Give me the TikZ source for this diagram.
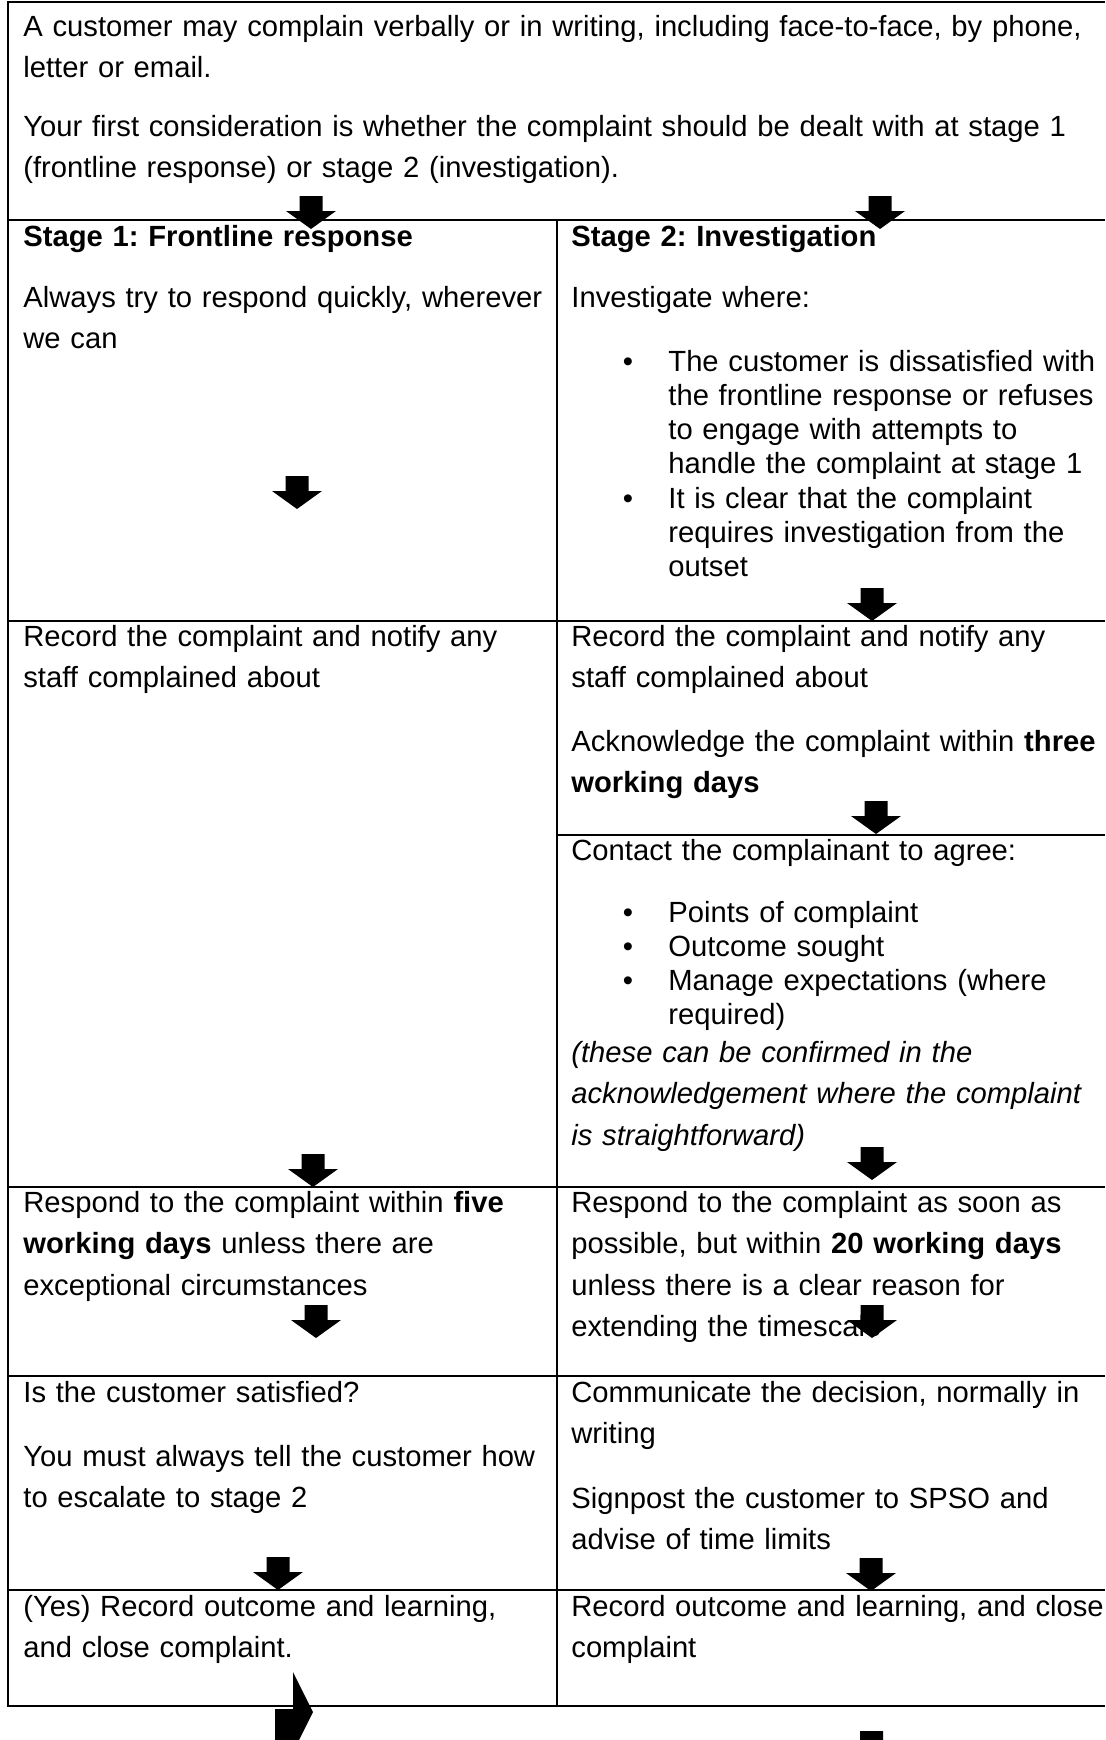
\documentclass[tikz,border=0pt]{standalone}
\usepackage{fontspec}
\setmainfont{Liberation Sans}
\frenchspacing

\begin{document}
\begin{tikzpicture}[x=0.5pt,y=-0.5pt,
  txt/.style={anchor=base west,inner sep=0pt,text width=280pt,align=left,
    font=\fontsize{14.6}{20.8}\selectfont},
  widetxt/.style={txt,text width=540pt},
  listtxt/.style={txt,font=\fontsize{14.6}{17.1}\selectfont},
  dot/.style={anchor=base,inner sep=0pt,font=\fontsize{14.6}{17.1}\selectfont},
  rule/.style={line width=1.2pt},
  down/.pic={\fill (-11.5,0) -- (11.5,0) -- (11.5,15) -- (25,15) -- (0,33) -- (-25,15) -- (-11.5,15) -- cycle;}]
\useasboundingbox (0,0) rectangle (1105,1740);
\clip (0,0) rectangle (1105,1740);
\draw [rule] (1105,2) -- (8,2) -- (8,1706) -- (1105,1706);
\draw [rule] (8,220) -- (1105,220);
\draw [rule] (8,621) -- (1105,621);
\draw [rule] (557,835) -- (1105,835);
\draw [rule] (8,1187) -- (1105,1187);
\draw [rule] (8,1376) -- (1105,1376);
\draw [rule] (8,1590) -- (1105,1590);
\draw [rule] (557,220) -- (557,1706);
% intro
\node [widetxt] (intro1) at (23,36) {A customer may complain verbally or in writing, including face-to-face, by phone,\\letter or email.};
\node [widetxt] (intro2) at (23,136) {Your first consideration is whether the complaint should be dealt with at stage 1\\(frontline response) or stage 2 (investigation).};
% stage 1
\node [txt] (stageone) at (23,246) {\textbf{Stage 1: Frontline response}};
\node [txt] (quick) at (23,307) {Always try to respond quickly, wherever\\we can};
\node [txt] (recone) at (23,646) {Record the complaint and notify any\\staff complained about};
\node [txt] (respone) at (23,1212) {Respond to the complaint within \textbf{five}\\\textbf{working days} unless there are\\exceptional circumstances};
\node [txt] (satisfied) at (23,1402) {Is the customer satisfied?};
\node [txt] (escalate) at (23,1466) {You must always tell the customer how\\to escalate to stage 2};
\node [txt] (closeone) at (23,1616) {(Yes) Record outcome and learning,\\and close complaint.};
% stage 2
\node [txt] (stagetwo) at (571,246) {\textbf{Stage 2: Investigation}};
\node [txt] (where) at (571,307) {Investigate where:};
\node [dot] (dotA) at (628,371) {\textbullet};
\node [listtxt] (whereA) at (668,371) {The customer is dissatisfied with\\the frontline response or refuses\\to engage with attempts to\\handle the complaint at stage 1};
\node [dot] (dotB) at (628,508) {\textbullet};
\node [listtxt] (whereB) at (668,508) {It is clear that the complaint\\requires investigation from the\\outset};
\node [txt] (rectwo) at (571,646) {Record the complaint and notify any\\staff complained about};
\node [txt] (ack) at (571,751) {Acknowledge the complaint within \textbf{three}\\\textbf{working days}};
\node [txt] (agree) at (571,860) {Contact the complainant to agree:};
\node [dot] (dotC) at (628,922) {\textbullet};
\node [listtxt] (points) at (668,922) {Points of complaint};
\node [dot] (dotD) at (628,956) {\textbullet};
\node [listtxt] (sought) at (668,956) {Outcome sought};
\node [dot] (dotE) at (628,990) {\textbullet};
\node [listtxt] (manage) at (668,990) {Manage expectations (where\\required)};
\node [txt] (confirm) at (571,1062) {\itshape (these can be confirmed in the\\acknowledgement where the complaint\\is straightforward)};
\node [txt] (resptwo) at (571,1212) {Respond to the complaint as soon as\\possible, but within \textbf{20 working days}\\unless there is a clear reason for\\extending the timescale};
\node [txt] (decision) at (571,1402) {Communicate the decision, normally in\\writing};
\node [txt] (spso) at (571,1508) {Signpost the customer to SPSO and\\advise of time limits};
\node [txt] (closetwo) at (571,1616) {Record outcome and learning, and close\\complaint};
% arrows
\pic at (311,196) {down};
\pic at (880,196) {down};
\pic at (297,476) {down};
\pic at (872,588) {down};
\pic at (876,801) {down};
\pic at (313,1154) {down};
\pic at (872,1147) {down};
\pic at (316,1305) {down};
\pic at (872,1305) {down};
\pic at (278,1557) {down};
\pic at (871,1558) {down};
\pic at (871.5,1731) {down};
\fill (275,1745) -- (275,1709) -- (293,1709) -- (293,1672) -- (313,1712) -- (293,1752) -- (293,1745) -- cycle;
\end{tikzpicture}
\end{document}
